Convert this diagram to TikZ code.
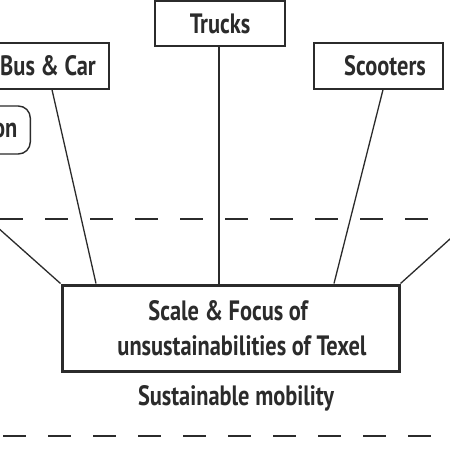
\documentclass[tikz,border=0pt]{standalone}
\usepackage{fontspec}
\newfontfamily\cf[FakeStretch=0.8]{PT Sans}
\definecolor{ink}{HTML}{2B2B2B}
\begin{document}
\begin{tikzpicture}[x=1pt,y=-1pt,
  every node/.style={font=\cf\bfseries\fontsize{28}{35}\selectfont, text=ink},
  box/.style={draw=ink, line width=1.4pt, rectangle, inner sep=0pt},
  mainbox/.style={draw=ink, line width=3pt, rectangle, inner sep=0pt, align=left},
  rbox/.style={draw=ink, line width=1.4pt, rectangle, rounded corners=12pt, inner sep=0pt},
  link/.style={draw=ink, line width=1.3pt},
  dashline/.style={draw=ink, line width=1.4pt, dash pattern=on 23pt off 22pt}]
\clip (0,0) rectangle (450,450);
\fill[white] (0,0) rectangle (450,450);
% dashed bands
\coordinate (d1a) at (0,219); \coordinate (d1b) at (460,219);
\coordinate (d2a) at (3,436); \coordinate (d2b) at (460,436);
\draw[dashline] (d1a) -- (d1b);
\draw[dashline] (d2a) -- (d2b);
% boxes
\node[box, minimum width=130pt, minimum height=45pt] (trucks) at (220,23.5) {Trucks};
\node[box, minimum width=129pt, minimum height=46pt] (bus) at (44.5,66) {\hspace*{7pt}Bus \& Car};
\node[box, minimum width=129pt, minimum height=46pt] (scoot) at (378.5,66) {\hspace*{13pt}Scooters};
\node[rbox, minimum width=110pt, minimum height=48pt, anchor=east] (other) at (31,130) {\hspace*{60pt}on};
\node[mainbox, minimum width=337pt, minimum height=86pt] (main) at (230.5,328)
  {\hspace*{54pt}Scale \& Focus of\\\hspace*{23pt}unsustainabilities of Texel};
\node (sm) at (236,398) {Sustainable mobility};
% connectors
\coordinate (farL) at (-40,194);
\coordinate (farR) at (490,203);
\draw[link] (bus.south) ++(7.5,0) coordinate (busb) (busb) -- (main.north west -| 96,0);
\draw[link] (trucks.south -| 219,0) -- (main.north -| 219,0);
\draw[link] (scoot.south -| 383,0) -- (main.north -| 334,0);
\draw[link] (farL) -- (main.north west);
\draw[link] (farR) -- (main.north east);
\end{tikzpicture}
\end{document}
